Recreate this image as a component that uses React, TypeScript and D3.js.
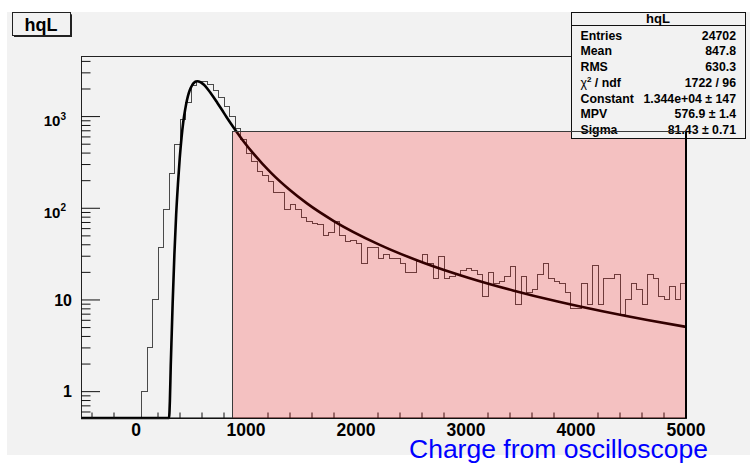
import React from "react";
import * as d3 from "d3";

// ---------- data ----------
const X_MIN = -500;
const X_MAX = 5000;
const BIN_WIDTH = 50;
const Y_MIN = 0.516;
const Y_MAX = 4580;

// histogram contents, 50-wide bins from -500 to 5000
const BIN_COUNTS = [
  0, 0, 0, 0, 0, 0, 0, 0, 0, 0, 0,
  1, 3, 10, 37, 98, 237, 499, 934, 1440, 2200,
  2420, 2440, 2250, 1950, 1620, 1300, 1000, 740, 560,
  398, 322, 251, 225, 195, 148, 148, 96, 111, 97,
  80, 71, 68, 66, 51, 54, 71, 50, 43, 44,
  41, 25, 37, 37, 28, 31, 28, 28, 25, 20,
  20, 26, 31, 25, 17, 30, 17, 18, 19, 21,
  22, 21, 19, 11, 20, 15, 16, 18, 23, 9,
  18, 12, 13, 19, 25, 17, 16, 15, 12, 8,
  8, 15, 9, 24, 9, 17, 17, 19, 7, 10,
  15, 13, 9, 19, 17, 11, 10, 14, 10, 15,
];

// fitted landau curve (Constant 1.344e4, MPV 576.9, Sigma 81.43) sampled points
const FIT_X = [
  -500, 300, 308, 316, 325, 333, 349, 365, 382, 398, 414, 430, 447, 463, 479,
  496, 512, 528, 544, 561, 577, 593, 618, 658, 699, 740, 781, 821, 862, 903,
  984, 1066, 1228, 1391, 1554, 1798, 2206, 2613, 3020, 3427, 3834, 4241, 4648, 5000,
];
const FIT_Y = [
  0, 0.29, 0.79, 1.95, 4.37, 9.06, 31.3, 85.1, 189, 357, 591, 878, 1192, 1508, 1794,
  2035, 2219, 2343, 2410, 2428, 2404, 2348, 2221, 1952, 1670, 1410, 1186, 998, 843, 716,
  526, 397, 243, 161, 113, 72.6, 40.4, 25.5, 17.5, 12.7, 9.6, 7.52, 6.04, 5.09,
];

const X_TICK_LABELS = [0, 1000, 2000, 3000, 4000, 5000];
const Y_TICK_VALUES = [1, 10, 100, 1000];
const Y_TICK_BASES = ["1", "10", "10", "10"];
const Y_TICK_EXPS = ["", "", "2", "3"];

const FIT_BOX_X = [873, 5000];
const FIT_BOX_TOP = 684;

const HIST_NAME = "hqL";
const STATS_LABELS = ["Entries", "Mean", "RMS", "χ2 / ndf", "Constant", "MPV", "Sigma"];
const STATS_VALUES = ["24702", "847.8", "630.3", "1722 / 96", "1.344e+04 ± 147", "576.9 ± 1.4", "81.43 ± 0.71"];
const X_TITLE = "Charge from oscilloscope";

// ---------- layout ----------
const W = 750;
const H = 463;
const PLOT = { left: 81, right: 686, top: 56, bottom: 418 };
const FONT = "'Liberation Sans', Arial, Helvetica, sans-serif";
const BG = "#f2f2f2";

export default function App() {
  const x = d3.scaleLinear().domain([X_MIN, X_MAX]).range([PLOT.left, PLOT.right]);
  const y = d3.scaleLog().domain([Y_MIN, Y_MAX]).range([PLOT.bottom, PLOT.top]);
  const yc = (v: number) => y(Math.max(v, Y_MIN));

  // histogram outline
  let histD = `M${x(X_MIN)},${yc(BIN_COUNTS[0])}`;
  BIN_COUNTS.forEach((c, i) => {
    const xl = x(X_MIN + i * BIN_WIDTH);
    const xr = x(X_MIN + (i + 1) * BIN_WIDTH);
    histD += `L${xl},${yc(c)}L${xr},${yc(c)}`;
  });

  const fitPts: [number, number][] = FIT_X.map((v, i) => [v, FIT_Y[i]]);
  const fitD =
    d3
      .line<[number, number]>()
      .x((p) => x(p[0]))
      .y((p) => yc(p[1]))
      .curve(d3.curveMonotoneX)(fitPts) || "";

  // ticks
  const xMajor = d3.range(X_MIN, X_MAX + 1, 1000).filter((v) => v % 1000 === 0 && v >= X_MIN);
  const xMinor = d3.range(X_MIN + 100, X_MAX, 200).filter((v) => v % 1000 !== 0);
  const yTicks: { v: number; major: boolean }[] = [];
  for (let e = -1; e <= 3; e++) {
    for (let k = 1; k <= 9; k++) {
      const v = k * Math.pow(10, e);
      if (v >= Y_MIN && v <= Y_MAX) yTicks.push({ v, major: k === 1 });
    }
  }

  const boxX0 = x(FIT_BOX_X[0]);
  const boxX1 = x(FIT_BOX_X[1]);
  const boxY0 = y(FIT_BOX_TOP);

  const stats = { x: 571, y: 12.5, w: 174, h: 126 };

  return (
    <svg
      width={W}
      height={H}
      viewBox={`0 0 ${W} ${H}`}
      style={{ position: "absolute", left: 0, top: 0, display: "block", background: "#fff" }}
      fontFamily={FONT}
    >
      <rect x={7} y={12} width={W - 7} height={443} fill={BG} />

      {/* histogram */}
      <path d={histD} fill="none" stroke="#4a4a4a" strokeWidth={1} shapeRendering="crispEdges" />

      {/* fit */}
      <path d={fitD} fill="none" stroke="#000" strokeWidth={2.6} strokeLinejoin="round" />

      {/* frame */}
      <rect
        x={PLOT.left}
        y={PLOT.top}
        width={PLOT.right - PLOT.left}
        height={PLOT.bottom - PLOT.top}
        fill="none"
        stroke="#222"
        strokeWidth={1}
        shapeRendering="crispEdges"
      />
      <line x1={PLOT.left} x2={PLOT.right} y1={PLOT.bottom} y2={PLOT.bottom} stroke="#000" strokeWidth={1.2} />

      {/* x ticks */}
      {xMajor.map((v) => (
        <line key={"xM" + v} x1={x(v)} x2={x(v)} y1={PLOT.bottom} y2={PLOT.bottom - 11} stroke="#111" strokeWidth={1} />
      ))}
      {xMinor.map((v) => (
        <line key={"xm" + v} x1={x(v)} x2={x(v)} y1={PLOT.bottom} y2={PLOT.bottom - 5.5} stroke="#111" strokeWidth={1} />
      ))}
      {/* y ticks */}
      {yTicks.map((t) => (
        <line
          key={"y" + t.v}
          x1={PLOT.left}
          x2={PLOT.left + (t.major ? 19 : 9.5)}
          y1={y(t.v)}
          y2={y(t.v)}
          stroke="#111"
          strokeWidth={1}
        />
      ))}

      {/* fit range box fill */}
      <rect x={boxX0} y={boxY0} width={boxX1 - boxX0} height={PLOT.bottom - boxY0} fill="rgba(255,0,0,0.2)" />

      {/* x labels */}
      {X_TICK_LABELS.map((v) => (
        <text key={"xl" + v} x={x(v)} y={435.5} textAnchor="middle" fontSize={17.5} fontWeight="bold" fill="#000">
          {v}
        </text>
      ))}
      {/* y labels */}
      {Y_TICK_VALUES.map((v, i) =>
        Y_TICK_EXPS[i] === "" ? (
          <text key={"yl" + v} x={72} y={y(v) + 5.7} textAnchor="end" fontSize={16} fontWeight="bold" fill="#000">
            {Y_TICK_BASES[i]}
          </text>
        ) : (
          <text key={"yl" + v} x={66} y={y(v) + 9.7} textAnchor="end" fontSize={15} fontWeight="bold" fill="#000">
            {Y_TICK_BASES[i]}
            <tspan fontSize={10} dy={-6.5}>
              {Y_TICK_EXPS[i]}
            </tspan>
          </text>
        )
      )}

      {/* x title */}
      <text x={708} y={458} textAnchor="end" fontSize={26.5} fill="#0000ff">
        {X_TITLE}
      </text>

      {/* stats box */}
      <rect
        x={stats.x}
        y={stats.y}
        width={stats.w}
        height={stats.h}
        fill={BG}
        stroke="#111"
        strokeWidth={1}
        shapeRendering="crispEdges"
      />
      <line x1={stats.x} x2={stats.x + stats.w} y1={25.5} y2={25.5} stroke="#111" strokeWidth={1} shapeRendering="crispEdges" />
      <text x={stats.x + stats.w / 2} y={23} textAnchor="middle" fontSize={13} fontWeight="bold" fill="#000">
        {HIST_NAME}
      </text>
      {STATS_LABELS.map((lab, i) => (
        <g key={"st" + i}>
          <text x={580.5} y={39.5 + i * 15.75} fontSize={12.3} fontWeight="bold" fill="#000">
            {lab.startsWith("χ") ? (
              <>
                <tspan fontWeight="normal">χ</tspan>
                <tspan fontSize={8} dy={-5}>2</tspan>
                <tspan dy={5}>{lab.slice(2)}</tspan>
              </>
            ) : (
              lab
            )}
          </text>
          <text x={736} y={39.5 + i * 15.75} textAnchor="end" fontSize={12.3} fontWeight="bold" fill="#000">
            {STATS_VALUES[i]}
          </text>
        </g>
      ))}

      {/* fit range box outline (drawn over stats) */}
      <path
        d={`M${boxX0},${PLOT.bottom}V${boxY0}H${boxX1}`}
        fill="none"
        stroke="#3a3a3a"
        strokeWidth={1}
        shapeRendering="crispEdges"
      />
      <line x1={boxX1} x2={boxX1} y1={boxY0} y2={PLOT.bottom} stroke="#000" strokeWidth={2} />

      {/* title box */}
      <rect x={14} y={14.3} width={58} height={22.7} fill="#222" />
      <rect x={12} y={12.3} width={58} height={22.7} fill={BG} stroke="#222" strokeWidth={1} shapeRendering="crispEdges" />
      <text x={41} y={30.5} textAnchor="middle" fontSize={18} fontWeight="bold" fill="#000">
        {HIST_NAME}
      </text>
    </svg>
  );
}
